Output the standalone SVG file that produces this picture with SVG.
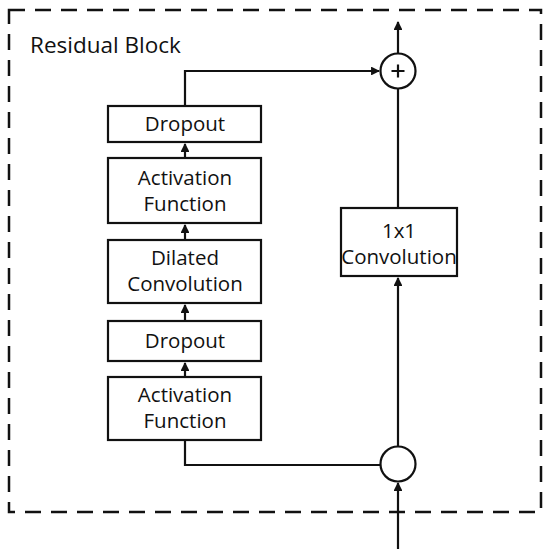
<svg xmlns="http://www.w3.org/2000/svg" width="550" height="549" viewBox="0 0 550 549">
<style>
.box{fill:#fff;stroke:#111;stroke-width:2.2}
.t{font-family:"Open Sans",Lato,sans-serif;font-size:20.5px;fill:#111;text-anchor:middle}
.ln{fill:none;stroke:#111;stroke-width:2.2}
</style>
<defs>
<marker id="ah" viewBox="0 0 10 10" refX="9" refY="5" markerWidth="4" markerHeight="4" orient="auto" markerUnits="strokeWidth">
<path d="M0,0 L10,5 L0,10 z" fill="#111"/>
</marker>
</defs>
<rect x="0" y="0" width="550" height="549" fill="#fff"/>
<rect id="block" x="9" y="10" width="532" height="502" fill="none" stroke="#111" stroke-width="2.5" stroke-dasharray="16,10"/>
<text x="30" y="53" font-family="'Open Sans',Lato,sans-serif" font-size="22.5" fill="#111">Residual Block</text>
<g id="connectors">
<line class="ln" x1="398" y1="549" x2="398" y2="483" marker-end="url(#ah)"/>
<line class="ln" x1="398" y1="446" x2="398" y2="278" marker-end="url(#ah)"/>
<line class="ln" x1="398" y1="208" x2="398" y2="88"/>
<line class="ln" x1="398" y1="53" x2="398" y2="22" marker-end="url(#ah)"/>
<polyline class="ln" points="185,440 185,465 381,465"/>
<line class="ln" x1="185" y1="377" x2="185" y2="363" marker-end="url(#ah)"/>
<line class="ln" x1="185" y1="321" x2="185" y2="305" marker-end="url(#ah)"/>
<line class="ln" x1="185" y1="240" x2="185" y2="225" marker-end="url(#ah)"/>
<line class="ln" x1="185" y1="158" x2="185" y2="144" marker-end="url(#ah)"/>
<polyline class="ln" points="185,106 185,71 379,71" marker-end="url(#ah)"/>
</g>
<g id="add">
<circle cx="398" cy="71" r="17.5" fill="#fff" stroke="#111" stroke-width="2.2"/>
<path d="M391.5,71 H404.5 M398,64.5 V77.5" stroke="#111" stroke-width="2.2"/>
</g>
<g id="split">
<circle cx="398" cy="464" r="17.5" fill="#fff" stroke="#111" stroke-width="2.2"/>
</g>
<g id="conv1x1">
<rect class="box" x="341" y="208" width="116" height="68"/>
<text x="399" y="238" class="t" font-size="19.5">1x1</text>
<text x="399" y="264" class="t" font-size="17.5">Convolution</text>
</g>
<g id="dropout2">
<rect class="box" x="108" y="106" width="153" height="36"/>
<text x="185" y="131" class="t">Dropout</text>
</g>
<g id="act2">
<rect class="box" x="108" y="158" width="153" height="65"/>
<text x="185" y="185" class="t">Activation</text>
<text x="185" y="211" class="t">Function</text>
</g>
<g id="dilated">
<rect class="box" x="108" y="240" width="153" height="63"/>
<text x="185" y="265" class="t">Dilated</text>
<text x="185" y="291" class="t">Convolution</text>
</g>
<g id="dropout1">
<rect class="box" x="108" y="321" width="153" height="40"/>
<text x="185" y="348" class="t">Dropout</text>
</g>
<g id="act1">
<rect class="box" x="108" y="377" width="153" height="63"/>
<text x="185" y="402" class="t">Activation</text>
<text x="185" y="428" class="t">Function</text>
</g>
</svg>
